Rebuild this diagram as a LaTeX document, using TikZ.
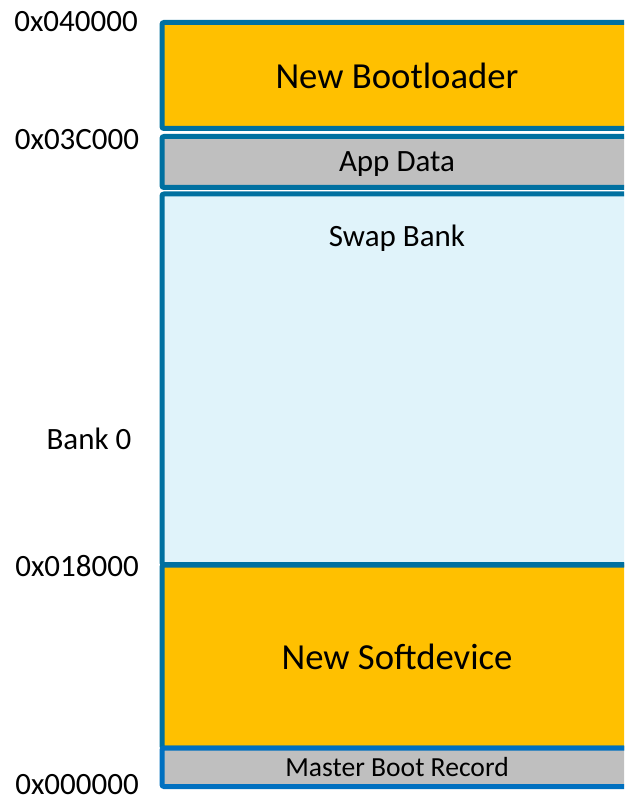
\documentclass[tikz,border=0pt]{standalone}
\usepackage{fontspec}
\setmainfont{Carlito}
\usetikzlibrary{positioning}
\definecolor{flashblue}{RGB}{0,112,160}
\definecolor{mbrblue}{RGB}{0,112,192}
\definecolor{flashgold}{RGB}{255,192,0}
\definecolor{flashgrey}{RGB}{191,191,191}
\definecolor{swapblue}{RGB}{224,243,250}
\tikzset{
  region/.style={draw=flashblue,line width=5pt,rounded corners=2pt,minimum width=470pt,inner sep=0pt,text depth=0pt},
  bigtext/.style={font=\fontsize{36.7}{40}\selectfont},
  midtext/.style={font=\fontsize{31}{36}\selectfont},
  smalltext/.style={font=\fontsize{27.6}{32}\selectfont},
  addr/.style={midtext,inner sep=0pt}
}

\begin{document}
\begin{tikzpicture}[x=1pt,y=-1pt]
  \useasboundingbox (0,0) rectangle (624,802);
  \clip (0,0) rectangle (624,802);
  % flash regions, top to bottom
  \node[region,fill=flashgold,minimum height=106pt,bigtext] (boot) at (397,75.5) {New Bootloader};
  \node[region,fill=flashgrey,minimum height=51pt,midtext] (appdata) at (397,162) {App Data};
  \node[region,fill=swapblue,minimum height=370.5pt] (swap) at (397,379.25) {};
  \node[midtext,inner sep=0pt,below=33pt of swap.north] (swaplbl) {Swap Bank};
  \node[region,fill=flashgold,minimum height=183pt,bigtext] (softdev) at (397,656.5) {New Softdevice};
  \node[region,draw=mbrblue,fill=flashgrey,minimum height=38.5pt,smalltext] (mbr) at (397,767.25) {Master Boot Record};
  % addresses
  \node[addr] (a40) at (76,21.5) {0x040000};
  \node[addr] (a3c) at (77,140) {0x03C000};
  \node[addr] (bank) at (89,439) {Bank 0};
  \node[addr] (a18) at (77,566.5) {0x018000};
  \node[addr] (a00) at (77,785) {0x000000};
\end{tikzpicture}
\end{document}
